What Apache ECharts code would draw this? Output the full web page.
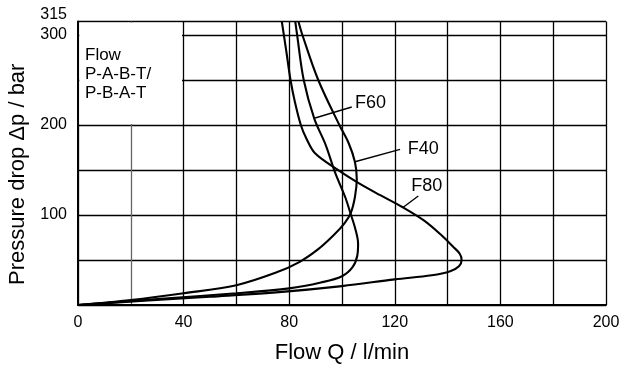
<!DOCTYPE html>
<html>
<head>
<meta charset="utf-8">
<script src="https://cdn.jsdelivr.net/npm/echarts@6/dist/echarts.min.js"></script>
<style>
  html, body { margin: 0; padding: 0; background: #fff; }
  #chart { width: 622px; height: 369px; }
</style>
</head>
<body>
<div id="chart"></div>
<script>
// ---- Data (flow Q in l/min, pressure drop in bar) ----
const seriesNames = ['F40', 'F60', 'F80'];

const f40Flow     = [0, 20, 40, 60, 75, 84, 91, 97, 101, 103.3, 104.9, 105.6, 104.9, 102.5, 99, 91, 85, 83.5];
const f40Pressure = [0, 5.5, 13, 22, 36, 48, 62, 78, 91, 102, 120, 140, 159, 180, 200, 250, 300, 315];

const f60Flow     = [0, 30, 60, 80, 92, 100, 104, 105.8, 106.1, 105, 103.2, 101.2, 97.4, 93.8, 89.5, 85.5, 83, 82.3];
const f60Pressure = [0, 6.5, 13, 18.5, 25, 32, 42, 55, 68, 85, 102, 120, 147, 178, 207, 250, 300, 315];

const f80Flow     = [0, 25, 50, 75, 100, 120, 134, 141, 144.3, 145.3, 144.6, 142, 137.5, 131, 123, 114.5, 106, 98, 89.8, 86.5, 84.4, 82.2, 80.5, 79, 77.2];
const f80Pressure = [0, 4.8, 9.2, 14, 21, 28.5, 33, 37.5, 43, 50, 57, 65, 78, 94, 108.6, 122, 136, 151, 168.5, 185, 200, 225, 250, 280, 315];

const xTickLabels = [0, 40, 80, 120, 160, 200];
const yTickLabels = [100, 200, 300, 315];

// ---- Annotation anchors (data coordinates) ----
const leaderStart = { F40: [104.9, 159.2], F60: [89.8, 207.8], F80: [123.2, 108.6] };
const leaderEnd   = { F40: [122, 173],     F60: [103.7, 220],  F80: [128.9, 121.1] };
const labelAt     = { F40: [130.8, 173.7], F60: [110.8, 224.1], F80: [132.1, 132.2] };

const FONT = '"Liberation Sans", Arial, Helvetica, sans-serif';

function pairs(xs, ys) { return xs.map((x, i) => [x, ys[i]]); }
const curveData = {
  F40: pairs(f40Flow, f40Pressure),
  F60: pairs(f60Flow, f60Pressure),
  F80: pairs(f80Flow, f80Pressure)
};

const series = seriesNames.map(name => ({
  name: name,
  type: 'line',
  data: curveData[name],
  smooth: 0.35,
  showSymbol: false,
  symbol: 'none',
  lineStyle: { color: '#000', width: 2.1 },
  z: 3,
  markLine: {
    silent: true,
    symbol: 'none',
    label: { show: false },
    lineStyle: { color: '#000', width: 1.4, type: 'solid' },
    data: [[{ coord: leaderStart[name] }, { coord: leaderEnd[name] }]]
  },
  markPoint: {
    silent: true,
    symbol: 'circle',
    symbolSize: 1,
    itemStyle: { color: 'rgba(0,0,0,0)' },
    label: {
      show: true, position: 'inside', formatter: name,
      color: '#000', fontSize: 18, fontFamily: FONT
    },
    data: [{ coord: labelAt[name], value: name }]
  }
}));

// blank legend box in the top-left corner of the plot
series.push({
  type: 'line',
  data: [],
  z: 2,
  markArea: {
    silent: true,
    itemStyle: { color: '#fff', borderWidth: 0 },
    data: [[{ coord: [0.5, 201.2] }, { coord: [39.4, 313.6] }]]
  }
});

// vertical grid: the 20 l/min line is fainter in the reference
const xGridColors = ['#000', '#666', '#000', '#000', '#000', '#000', '#000', '#000', '#000', '#000', '#000'];

const chart = echarts.init(document.getElementById('chart'), null, { renderer: 'canvas' });
chart.setOption({
  animation: false,
  backgroundColor: '#fff',
  textStyle: { fontFamily: FONT },
  title: {
    text: 'Flow\nP-A-B-T/\nP-B-A-T',
    left: 85, top: 46, padding: 0,
    textStyle: { fontFamily: FONT, fontSize: 17, fontWeight: 'normal', color: '#000', lineHeight: 19 }
  },
  grid: { left: 78, right: 16, top: 21.5, bottom: 64, containLabel: false, outerBoundsMode: 'none' },
  xAxis: {
    type: 'value', min: 0, max: 200, interval: 20,
    name: 'Flow Q / l/min', nameLocation: 'middle', nameGap: 37,
    nameTextStyle: { fontFamily: FONT, fontSize: 22, color: '#000' },
    axisLine: { show: true, lineStyle: { color: '#000', width: 2 } },
    axisTick: { show: false },
    axisLabel: {
      margin: 10, color: '#000', fontSize: 16, fontFamily: FONT,
      formatter: v => xTickLabels.includes(v) ? String(v) : ''
    },
    splitLine: { show: true, lineStyle: { color: xGridColors, width: 1.3 } }
  },
  yAxis: {
    type: 'value', min: 0, max: 315, interval: 50,
    name: 'Pressure drop Δp / bar', nameLocation: 'middle', nameGap: 45, nameRotate: 90,
    nameTextStyle: { fontFamily: FONT, fontSize: 22, color: '#000', padding: [0, 22, 0, 0] },
    axisLine: { show: true, lineStyle: { color: '#000', width: 2 } },
    axisTick: { show: false },
    axisLabel: {
      margin: 11, color: '#000', fontSize: 16, fontFamily: FONT,
      formatter: v => {
        if (!yTickLabels.includes(v)) return '';
        return v === 315 ? '{t|315}' : String(v);
      },
      rich: { t: { fontSize: 16, fontFamily: FONT, color: '#000', padding: [0, 0, 13, 0] } }
    },
    splitLine: { show: true, lineStyle: { color: '#000', width: 1.3 } }
  },
  series: series
});
</script>
</body>
</html>
